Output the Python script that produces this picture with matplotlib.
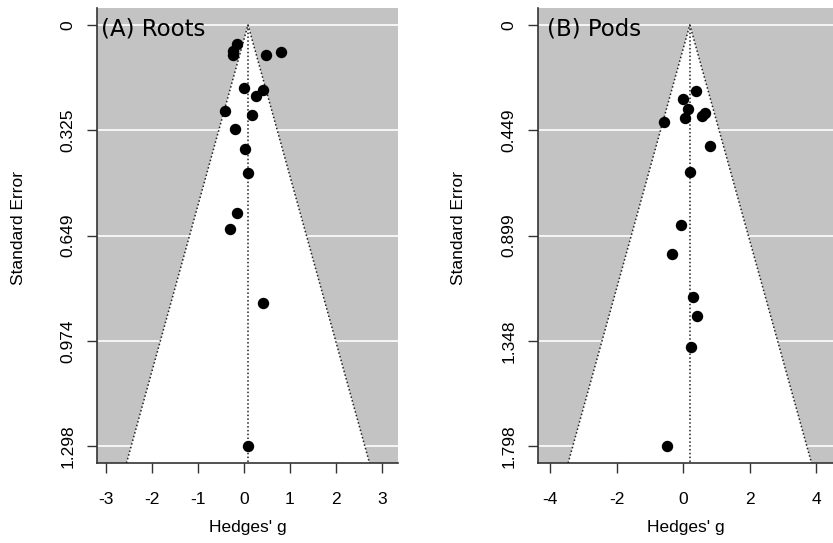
import numpy as np
import matplotlib.pyplot as plt

# panel A: roots
roots_g = [-0.15, -0.23, -0.23, 0.49, 0.81, 0.00, 0.42, 0.26, -0.41, 0.18,
           -0.19, 0.03, 0.09, -0.15, -0.30, 0.41, 0.09]
roots_se = [0.059, 0.082, 0.092, 0.092, 0.084, 0.194, 0.201, 0.218, 0.265, 0.278,
            0.321, 0.383, 0.455, 0.578, 0.628, 0.856, 1.298]
roots_est = 0.09
roots_xticks = [-3, -2, -1, 0, 1, 2, 3]
roots_ylabels = ["0", "0.325", "0.649", "0.974", "1.298"]

# panel B: pods
pods_g = [0.38, -0.02, 0.16, 0.04, 0.56, 0.65, -0.58, 0.81, 0.21, -0.06,
          -0.35, 0.31, 0.42, 0.24, -0.49]
pods_se = [0.281, 0.317, 0.358, 0.399, 0.388, 0.376, 0.415, 0.518, 0.628, 0.855,
           0.979, 1.160, 1.240, 1.375, 1.798]
pods_est = 0.20
pods_xticks = [-4, -2, 0, 2, 4]
pods_ylabels = ["0", "0.449", "0.899", "1.348", "1.798"]

W, H = 833, 543
fig = plt.figure(figsize=(W / 100, H / 100), dpi=100)
tick_font = dict(family="Liberation Sans", size=12.5)


def funnel(ax, g, se, est, xticks, ylabels, xlim, title, tx):
    max_se = max(se)
    ylo = -0.04 * max_se
    yhi = max_se * 1.04 - 0.001
    ax.set_facecolor("#c3c3c3")
    yt = np.linspace(0, max_se, 5)
    for y in yt:
        ax.axhline(y, color="white", lw=1.2, zorder=1)
    half = 1.96 * yhi
    ax.fill([est - half, est, est + half], [yhi, 0, yhi], color="white",
            zorder=2, lw=0)
    ax.plot([est - half, est, est + half], [yhi, 0, yhi], color="#222222",
            ls=(0, (1, 1.5)), lw=1.1, zorder=3)
    ax.plot([est, est], [0, yhi], color="#222222", ls=(0, (1, 1.5)), lw=1.1,
            zorder=3)
    ax.plot(g, se, "o", color="black", ms=7.2, zorder=4)
    ax.set_xlim(*xlim)
    ax.set_ylim(yhi, ylo)
    ax.set_xticks(xticks)
    ax.set_xticklabels([str(v) for v in xticks], **tick_font)
    ax.set_yticks(yt)
    ax.set_yticklabels(ylabels, rotation=90, va="center", **tick_font)
    for s in ["top", "right"]:
        ax.spines[s].set_visible(False)
    for s in ["left", "bottom"]:
        ax.spines[s].set_color("#333333")
        ax.spines[s].set_linewidth(1.2)
    ax.tick_params(axis="x", length=7.5, width=1, color="#333333", pad=13.5)
    ax.tick_params(axis="y", length=7.5, width=1, color="#333333", pad=8)
    ax.set_xlabel("Hedges' g", family="Liberation Sans", size=12.5)
    ax.set_ylabel("Standard Error", family="Liberation Sans", size=12.5)
    ax.text(tx, 0.9385, title, transform=ax.transAxes, family="DejaVu Sans",
            size=16.5, va="baseline", ha="left", zorder=5)


axA = fig.add_axes([97 / W, 80 / H, 301 / W, 455 / H])
funnel(axA, roots_g, roots_se, roots_est, roots_xticks, roots_ylabels,
       (-3.196, 3.354), "(A) Roots", 0.014)
axB = fig.add_axes([538 / W, 80 / H, 295 / W, 455 / H])
funnel(axB, pods_g, pods_se, pods_est, pods_xticks, pods_ylabels,
       (-4.37, 4.51), "(B) Pods", 0.03)

axA.xaxis.set_label_coords(0.5, -0.141)
axA.yaxis.set_label_coords(-0.262, 0.516)
axB.xaxis.set_label_coords(0.5, -0.141)
axB.yaxis.set_label_coords(-0.271, 0.516)
for ax in (axA, axB):
    ax.xaxis.label.set_va("center")
    ax.yaxis.label.set_va("center")

plt.savefig("out.png", dpi=100)
